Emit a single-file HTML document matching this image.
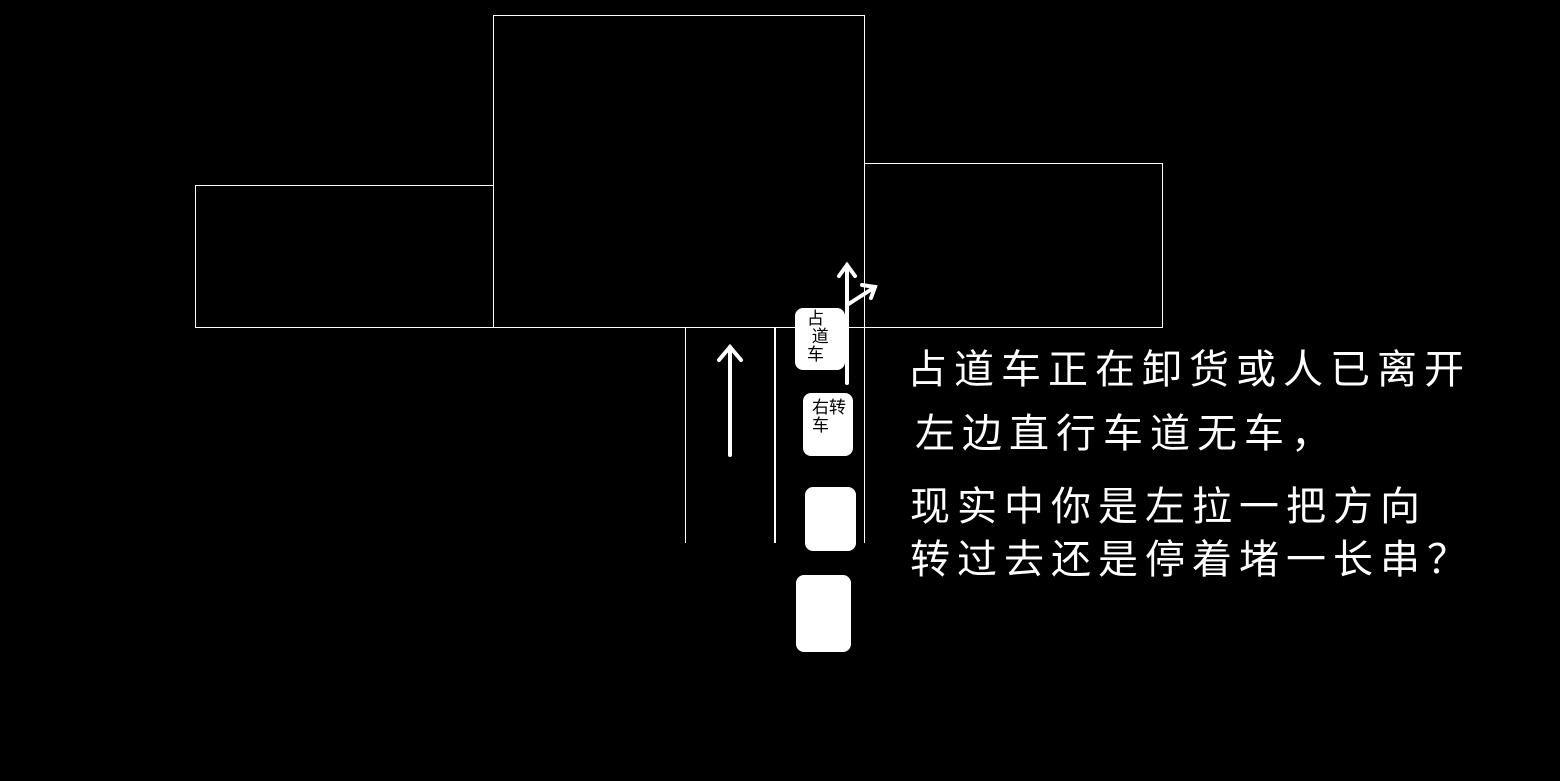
<!DOCTYPE html>
<html><head><meta charset="utf-8"><style>
html,body{margin:0;padding:0;background:#000;width:1560px;height:781px;overflow:hidden;position:relative}
.b{position:absolute;border:1px solid #fff;box-sizing:border-box}
.car{position:absolute;background:#fff;border-radius:8px;color:#000;font-family:"Liberation Sans","Noto Sans CJK SC",sans-serif;font-size:17px;line-height:18px}
.t{position:absolute;color:#fff;font-family:"Liberation Sans","Noto Sans CJK SC",sans-serif;font-size:40px;letter-spacing:7px;white-space:nowrap;line-height:40px}
</style></head><body>
<div class="b" style="left:195px;top:185px;width:299px;height:143px"></div>
<div class="b" style="left:864px;top:163px;width:299px;height:165px"></div>
<div class="b" style="left:493px;top:15px;width:372px;height:313px"></div>
<svg width="1560" height="781" style="position:absolute;left:0;top:0">
<line x1="685.5" y1="327" x2="685.5" y2="543" stroke="#fff" stroke-width="1"/>
<line x1="775" y1="327" x2="775" y2="543" stroke="#fff" stroke-width="2"/>
<line x1="864.5" y1="327" x2="864.5" y2="543" stroke="#fff" stroke-width="1"/>
<g stroke="#fff" stroke-width="4" fill="none" stroke-linecap="round">
<line x1="730" y1="455" x2="730" y2="347"/>
<polyline points="719,360 730,347 741,360"/>
<line x1="847" y1="383" x2="847" y2="265"/>
<polyline points="839,276 847,265 855,276"/>
<line x1="847" y1="305" x2="875" y2="287"/>
<polyline points="862,285 875,287 871,298"/>
</g>
</svg>
<div class="car" style="left:795px;top:308px;width:50px;height:62px;"><div style="position:absolute;left:12px;top:2px;width:20px">占<br>&nbsp;道<br>车</div></div>
<div class="car" style="left:803px;top:393px;width:50px;height:63px;"><div style="position:absolute;left:9px;top:6px">右转<br>车</div></div>
<div class="car" style="left:805px;top:487px;width:51px;height:64px;"></div>
<div class="car" style="left:796px;top:575px;width:55px;height:77px;"></div>
<div class="t" style="left:907px;top:350px">占道车正在卸货或人已离开</div>
<div class="t" style="left:915px;top:414px">左边直行车道无车，</div>
<div class="t" style="left:910px;top:487px">现实中你是左拉一把方向</div>
<div class="t" style="left:910px;top:540px">转过去还是停着堵一长串？</div>
</body></html>
